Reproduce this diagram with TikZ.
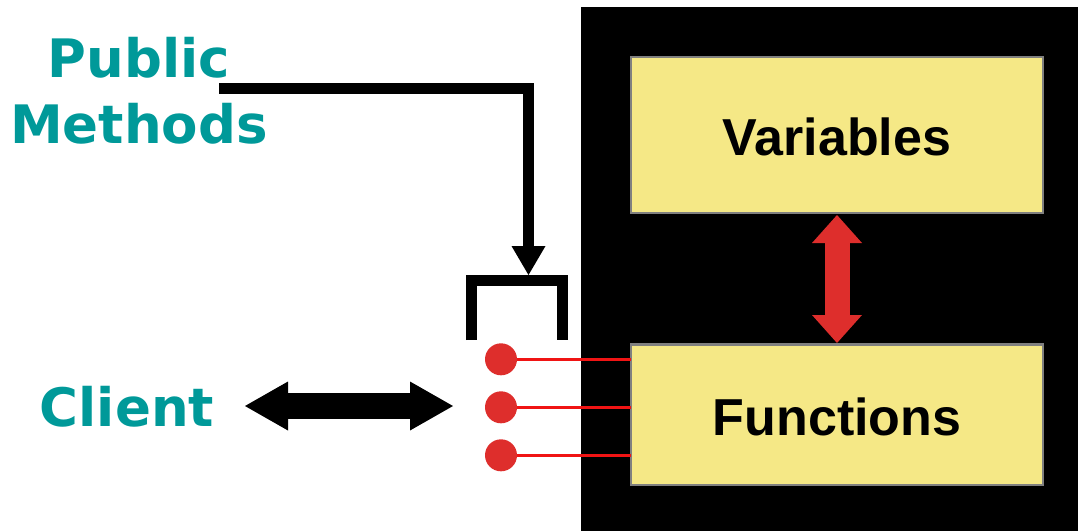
\documentclass[tikz,border=0pt]{standalone}
\usepackage{fontspec}
\usetikzlibrary{arrows.meta}
\newfontfamily\labelfont{DejaVu Sans}
\newfontfamily\boxfont{Liberation Sans}
\definecolor{tealtext}{RGB}{0,153,153}
\definecolor{boxyellow}{RGB}{245,232,134}
\definecolor{boxgray}{RGB}{128,128,128}
\definecolor{arrowred}{RGB}{222,46,44}
\definecolor{wirered}{RGB}{240,20,20}
\tikzset{
  sidelabel/.style={text=tealtext, font=\labelfont\bfseries\fontsize{53}{66}\selectfont, align=center, inner sep=0pt},
  partbox/.style={draw=boxgray, line width=2.5pt, fill=boxyellow, inner sep=0pt, outer sep=0pt, minimum width=412pt},
  boxtext/.style={font=\boxfont\bfseries\fontsize{52}{60}\selectfont, anchor=base, inner sep=0pt},
  port/.style={circle, fill=arrowred, minimum size=32pt, inner sep=0pt, outer sep=0pt},
  wire/.style={draw=wirered, line width=2.5pt},
  heavyline/.style={line width=11pt, line join=miter},
}
\begin{document}
\begin{tikzpicture}[x=1pt, y=-1pt]
\useasboundingbox (0,0) rectangle (1078,531);
% object body
\fill[black] (581,7) rectangle (1078,531);
\node[partbox, minimum height=156pt] (var) at (837,135) {};
\node[boxtext] (vartext) at (837,155) {Variables};
\node[partbox, minimum height=140.5pt] (fun) at (837,414.5) {};
\node[boxtext] (funtext) at (837,435) {Functions};
% variables <-> functions
\draw[arrowred, line width=25pt, {Triangle[width=50pt,length=28pt,line width=0pt]}-{Triangle[width=50pt,length=28pt,line width=0pt]}]
  (837,215) coordinate (vf-top) -- (837,343) coordinate (vf-bot);
% public method ports
\node[port] (p1) at (501,359.3) {};
\node[port] (p2) at (501,407.3) {};
\node[port] (p3) at (501,455.3) {};
\draw[wire] (p1.east) -- (p1.east -| fun.west);
\draw[wire] (p2.east) -- (p2.east -| fun.west);
\draw[wire] (p3.east) -- (p3.east -| fun.west);
% bracket over the ports
\draw[heavyline] (471.5,340) |- (562,280.5) -- (562,340);
\coordinate (brk-top) at (528.5,275);
% labels (base anchor sits on the last line)
\node[sidelabel, anchor=base] (pm) at (139,143) {Public\\Methods};
\node[sidelabel, anchor=base] (client) at (127,426) {Client};
% public methods pointer
\coordinate (pm-tail) at (219,88.5);
\draw[heavyline, -{Triangle[width=34pt,length=29pt,line width=0pt]}] (pm-tail) -| (brk-top);
% client <-> ports
\coordinate (cl-l) at (245,406);
\coordinate (cl-r) at (453,406);
\draw[black, line width=26pt, {Triangle[width=49pt,length=43pt,line width=0pt]}-{Triangle[width=49pt,length=43pt,line width=0pt]}] (cl-l) -- (cl-r);
\end{tikzpicture}
\end{document}
